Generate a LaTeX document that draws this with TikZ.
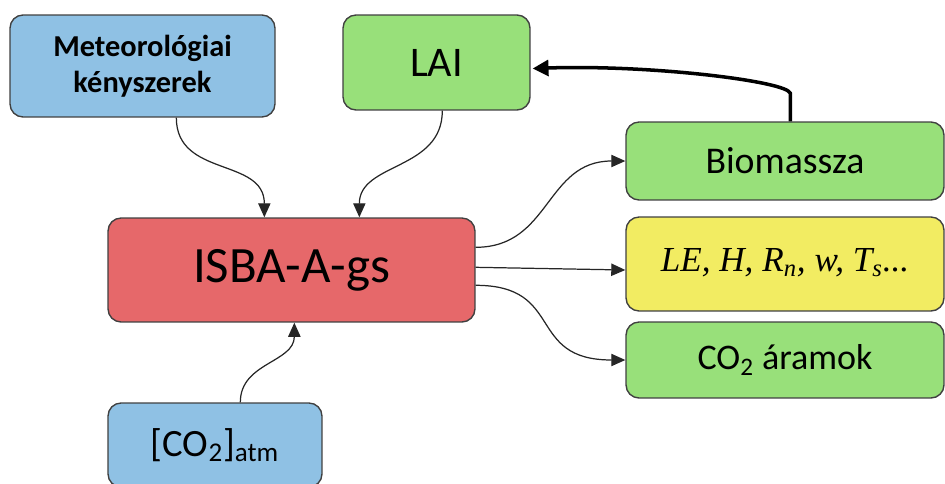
\documentclass[tikz,border=0pt]{standalone}
\usepackage{fontspec}
\setmainfont{Carlito}
\newfontfamily\serifit{Liberation Serif}
\usetikzlibrary{arrows.meta,calc}
\definecolor{boxblue}{RGB}{143,193,228}
\definecolor{boxgreen}{RGB}{152,224,122}
\definecolor{boxred}{RGB}{230,104,106}
\definecolor{boxyellow}{RGB}{242,236,98}
\definecolor{edgegray}{RGB}{64,64,64}
\tikzset{
  box/.style={draw=edgegray, line width=0.8pt, rounded corners=0.26cm,
    inner sep=0pt, align=center, anchor=center},
  link/.style={draw=black!85, line width=0.7pt,
    -{Triangle[length=8pt,width=7pt]}},
  thicklink/.style={draw=black, line width=2pt,
    -{Triangle[length=9pt,width=9pt]}},
}
\begin{document}
\begin{tikzpicture}[x=0.02cm,y=-0.02cm]
\useasboundingbox (0,0) rectangle (945,483);

% boxes
\node[box, fill=boxblue, minimum width=5.3cm, minimum height=2.04cm,
  font=\fontsize{17.3}{20.5}\selectfont\bfseries] (met) at (142.5,66)
  {Meteorológiai\\kényszerek};
\node[box, fill=boxgreen, minimum width=3.74cm, minimum height=1.9cm,
  font=\fontsize{24}{28}\selectfont] (lai) at (436.5,62.5) {LAI};
\node[box, fill=boxgreen, minimum width=6.36cm, minimum height=1.56cm,
  font=\fontsize{21.5}{25}\selectfont] (bio) at (785,161) {Biomassza};
\node[box, fill=boxred, minimum width=7.34cm, minimum height=2.08cm,
  font=\fontsize{29}{33}\selectfont] (isba) at (291.5,270) {ISBA-A-gs};
\node[box, fill=boxyellow, minimum width=6.36cm, minimum height=1.88cm,
  font=\fontsize{20}{24}\selectfont\serifit\itshape] (flux) at (785,264)
  {\raisebox{5pt}{LE, H, R\textsubscript{n}, w, T\textsubscript{s}...}};
\node[box, fill=boxgreen, minimum width=6.36cm, minimum height=1.52cm,
  font=\fontsize{20.5}{24}\selectfont] (co2) at (785,360)
  {CO\textsubscript{2} áramok};
\node[box, fill=boxblue, minimum width=4.28cm, minimum height=1.68cm,
  font=\fontsize{22}{26}\selectfont] (atm) at (215,445)
  {[CO\textsubscript{2}]\textsubscript{atm}};

% inputs to the model
\draw[link] ($(met.south west)+(167,0)$)
  .. controls ($(met.south west)+(167,60)$) and ($(isba.north west)+(157,-60)$)
  .. ($(isba.north west)+(157,0)$);
\draw[link] ($(lai.south west)+(100,0)$)
  .. controls ($(lai.south west)+(100,60)$) and ($(isba.north west)+(252,-55)$)
  .. ($(isba.north west)+(252,0)$);
\draw[link] ($(atm.north west)+(133,0)$)
  .. controls ($(atm.north west)+(133,-40)$) and ($(isba.south west)+(187,40)$)
  .. ($(isba.south west)+(187,0)$);

% model outputs
\draw[link] ($(isba.north east)+(0,30)$)
  .. controls ($(isba.north east)+(75,30)$) and ($(bio.west)+(-80,0)$)
  .. (bio.west);
\draw[link] ($(isba.north east)+(0,50)$) -- (isba.east -| flux.west);
\draw[link] ($(isba.north east)+(0,68)$)
  .. controls ($(isba.north east)+(90,68)$) and ($(co2.west)+(-100,0)$)
  .. (co2.west);

% feedback from biomass to LAI
\draw[thicklink] ($(bio.north west)+(165,0)$) -- ($(bio.north west)+(165,-28)$)
  .. controls ($(bio.north west)+(162,-40)$) and ($(lai.east)+(120,2)$)
  .. ($(lai.east)+(2,6)$);
\end{tikzpicture}
\end{document}
